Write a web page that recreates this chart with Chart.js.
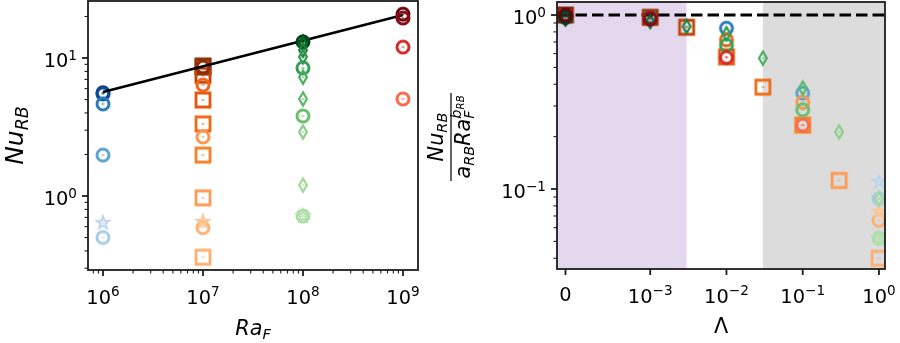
<!DOCTYPE html>
<html>
<head>
<meta charset="utf-8">
<script src="https://cdn.jsdelivr.net/npm/chart.js@4.4.1/dist/chart.umd.min.js"></script>
<style>
  html, body { margin: 0; padding: 0; background: #fff; }
  #wrap { position: relative; width: 900px; height: 343px; }
  #wrap canvas { position: absolute; left: 0; top: 0; width: 900px; height: 343px; }
</style>
</head>
<body>
<div id="wrap">
  <canvas id="left" width="900" height="343"></canvas>
  <canvas id="right" width="900" height="343"></canvas>
</div>
<script>
// ---- data ----------------------------------------------------------------
const raF = [1e6, 1e7, 1e8, 1e9];
const lambdaTicks = [0, 1e-3, 1e-2, 1e-1, 1];

// Ra_F = 1e6 (blues)
const bCircLam = [0, 1e-3, 1e-2, 1e-1, 1];
const bCircNu = [5.6, 5.5, 4.65, 1.98, 0.50];
const bCircNorm = [0.98, 0.97, 0.84, 0.356, 0.088];
const bStarLam = [1];
const bStarNu = [0.64];
const bStarNorm = [0.11];

// Ra_F = 1e7 (oranges)
const oSqLam = [0, 1e-3, 3e-3, 1e-2, 3e-2, 1e-1, 3e-1, 1];
const oSqNu = [8.75, 8.6, 7.5, 4.96, 3.33, 1.98, 0.97, 0.36];
const oSqNorm = [1.0, 0.97, 0.85, 0.575, 0.385, 0.233, 0.112, 0.040];
const oCircLam = [0, 1e-2, 1e-1, 1];
const oCircNu = [8.6, 6.37, 2.68, 0.59];
const oCircNorm = [0.99, 0.72, 0.315, 0.066];
const oStarLam = [1];
const oStarNu = [0.65];
const oStarNorm = [0.074];

// Ra_F = 1e8 (greens)
const gCircLam = [0, 1e-2, 1e-1, 1];
const gCircNu = [13.1, 8.47, 3.80, 0.716];
const gCircNorm = [0.97, 0.67, 0.285, 0.052];
const gDiaLam = [0, 1e-3, 3e-3, 1e-2, 3e-2, 1e-1, 3e-1, 1];
const gDiaNu = [13.0, 12.6, 11.4, 10.2, 7.27, 5.05, 2.91, 1.20];
const gDiaNorm = [0.95, 0.92, 0.86, 0.78, 0.565, 0.38, 0.213, 0.088];
const gStarLam = [1];
const gStarNu = [0.716];
const gStarNorm = [0.052];

// Ra_F = 1e9 (reds)
const rCircLam = [0, 1e-3, 1e-2, 1e-1];
const rCircNu = [20.8, 19.5, 12.0, 5.05];
const rCircNorm = [1.0, 0.95, 0.57, 0.233];

// fit  Nu = a Ra^b
const fitRa = [1e6, 1e9];
const fitNu = [5.68, 20.5];

// shaded Lambda bands
const bandLow = 3e-3;
const bandHigh = 3e-2;

// ---- styles ----------------------------------------------------------------
const bCircCol = ['#08306b', '#0b4d94', '#2b7bba', '#5ba3d0', '#a6cde5'];
const bStarCol = ['#bcd6ee'];
const oSqCol = ['#7f2704', '#9c3305', '#c44103', '#e5560e', '#f16a15', '#f7802c', '#fd9a55', '#fdb06f'];
const oCircCol = ['#8c2d04', '#ee661a', '#fa9552', '#fdb074'];
const oStarCol = ['#fdc592'];
const gCircCol = ['#00441b', '#37a055', '#6abf6e', '#acdca6'];
const gDiaCol = ['#00441b', '#006d2c', '#1d7f3c', '#2f984f', '#45ad5f', '#5bb86a', '#8ccf89', '#a1d99b'];
const gStarCol = ['#b2e0ab'];
const rCircCol = ['#67000d', '#8b0a14', '#d42a24', '#fb6a4a'];

const FONT = "'DejaVu Sans', 'Liberation Sans', sans-serif";
const AXC = '#1c1c1c';

// ---- markers (matplotlib-like, unfilled) ----------------------------------
const markerCache = {};
function marker(shape, color) {
  const key = shape + color;
  if (markerCache[key]) return markerCache[key];
  const S = 26, m = S / 2;
  const c = document.createElement('canvas');
  c.width = S; c.height = S;
  const g = c.getContext('2d');
  g.strokeStyle = color;
  g.fillStyle = color;
  g.lineJoin = 'miter';
  g.beginPath();
  if (shape === 'o') {
    g.lineWidth = 3;
    g.arc(m, m, 6, 0, Math.PI * 2);
  } else if (shape === 's') {
    g.lineWidth = 2.8;
    g.rect(m - 7, m - 7, 14, 14);
  } else if (shape === 'd') {
    g.lineWidth = 2.2;
    g.moveTo(m, m - 6.6); g.lineTo(m + 3.9, m); g.lineTo(m, m + 6.6); g.lineTo(m - 3.9, m);
    g.closePath();
  } else {
    g.lineWidth = 2;
    for (let i = 0; i < 10; i++) {
      const r = i % 2 ? 2.6 : 6.4;
      const a = -Math.PI / 2 + i * Math.PI / 5;
      const px = m + r * Math.cos(a), py = m + r * Math.sin(a);
      if (i) g.lineTo(px, py); else g.moveTo(px, py);
    }
    g.closePath();
  }
  g.stroke();
  // tiny error bar in the middle
  g.globalAlpha = 0.8;
  g.fillRect(m - 1.5, m - 0.6, 3, 1.2);
  markerCache[key] = c;
  return c;
}

// draw order: first = bottom
const series = [
  { shape: 'o', ra: 1e6, lam: bCircLam, nu: bCircNu, norm: bCircNorm, col: bCircCol },
  { shape: '*', ra: 1e6, lam: bStarLam, nu: bStarNu, norm: bStarNorm, col: bStarCol },
  { shape: 's', ra: 1e7, lam: oSqLam, nu: oSqNu, norm: oSqNorm, col: oSqCol },
  { shape: 'o', ra: 1e7, lam: oCircLam, nu: oCircNu, norm: oCircNorm, col: oCircCol },
  { shape: '*', ra: 1e7, lam: oStarLam, nu: oStarNu, norm: oStarNorm, col: oStarCol },
  { fit: true },
  { shape: 'o', ra: 1e8, lam: gCircLam, nu: gCircNu, norm: gCircNorm, col: gCircCol },
  { shape: 'd', ra: 1e8, lam: gDiaLam, nu: gDiaNu, norm: gDiaNorm, col: gDiaCol },
  { shape: '*', ra: 1e8, lam: gStarLam, nu: gStarNu, norm: gStarNorm, col: gStarCol },
  { shape: 'o', ra: 1e9, lam: rCircLam, nu: rCircNu, norm: rCircNorm, col: rCircCol },
];

function pointSet(s, xs, ys) {
  return {
    data: xs.map((x, i) => ({ x, y: ys[i] })),
    pointStyle: s.col.map(c => marker(s.shape, c)),
    pointRadius: 7,
    showLine: false,
    clip: 0,
  };
}

const leftSets = series.map((s, i) => {
  let d;
  if (s.fit) {
    d = {
      data: fitRa.map((x, k) => ({ x, y: fitNu[k] })),
      showLine: true, borderColor: '#000', borderWidth: 2.6, pointRadius: 0, clip: 0,
    };
  } else {
    d = pointSet(s, s.lam.map(() => s.ra), s.nu);
  }
  d.order = series.length - i;
  return d;
});
const rightSets = series.filter(s => !s.fit).map((s, i, arr) => {
  const d = pointSet(s, s.lam, s.norm);
  d.order = arr.length - i;
  return d;
});

// ---- symlog scale ----------------------------------------------------------
class SymLogScale extends Chart.Scale {
  static id = 'symlog';
  static defaults = { linthresh: 1e-3, linscale: 1 };
  determineDataLimits() {
    const { min, max } = this.getMinMax(true);
    this.min = Number.isFinite(this.options.min) ? this.options.min : min;
    this.max = Number.isFinite(this.options.max) ? this.options.max : max;
  }
  buildTicks() { return []; }
  fwd(v) {
    const c = this.options.linthresh, ls = this.options.linscale / (1 - 1 / 10);
    const a = Math.abs(v), s = Math.sign(v);
    return a <= c ? s * a / c * ls : s * (ls + Math.log10(a / c));
  }
  inv(t) {
    const c = this.options.linthresh, ls = this.options.linscale / (1 - 1 / 10);
    const a = Math.abs(t), s = Math.sign(t);
    return a <= ls ? s * a / ls * c : s * c * Math.pow(10, a - ls);
  }
  configure() {
    super.configure();
    this._t0 = this.fwd(this.min);
    this._t1 = this.fwd(this.max);
  }
  getPixelForValue(v) {
    return this.getPixelForDecimal((this.fwd(v) - this._t0) / (this._t1 - this._t0));
  }
  getValueForPixel(p) {
    return this.inv(this._t0 + this.getDecimalForPixel(p) * (this._t1 - this._t0));
  }
}
Chart.register(SymLogScale);

// ---- text helpers ----------------------------------------------------------
function font(size, italic) { return (italic ? 'italic ' : '') + size + 'px ' + FONT; }

function drawRich(ctx, parts, x, y, align, rot) {
  ctx.save();
  ctx.translate(x, y);
  if (rot) ctx.rotate(rot);
  let cx = 0, maxX = 0;
  const pos = parts.map(p => {
    ctx.font = p.f;
    const w = ctx.measureText(p.t).width;
    const start = cx;
    maxX = Math.max(maxX, start + w);
    if (p.adv !== false) cx = start + w;
    return start;
  });
  const off = align === 'center' ? -maxX / 2 : align === 'right' ? -maxX : 0;
  ctx.fillStyle = '#000';
  ctx.textAlign = 'left';
  ctx.textBaseline = 'alphabetic';
  parts.forEach((p, i) => { ctx.font = p.f; ctx.fillText(p.t, off + pos[i], p.dy || 0); });
  ctx.restore();
}

const TICK = 19.4, SUP = 13.6, LAB = 20.8, LSUB = 14.5;
function tickParts(v) {
  if (v === 0) return [{ t: '0', f: font(TICK) }];
  const e = Math.round(Math.log10(v));
  const es = (e < 0 ? '\u2212' : '') + Math.abs(e);
  return [{ t: '10', f: font(TICK) }, { t: es, f: font(SUP), dy: -7.5 }];
}

function logTicks(min, max) {
  const out = [];
  for (let n = Math.floor(Math.log10(min)); n <= Math.ceil(Math.log10(max)); n++) {
    for (let k = 1; k <= 9; k++) {
      const v = k * Math.pow(10, n);
      if (v >= min * 0.9999 && v <= max * 1.0001) out.push({ v, major: k === 1 });
    }
  }
  return out;
}

function line(ctx, x0, y0, x1, y1, w) {
  ctx.lineWidth = w;
  ctx.beginPath(); ctx.moveTo(x0, y0); ctx.lineTo(x1, y1); ctx.stroke();
}

function axesPlugin(spec) {
  return {
    id: 'axesDraw',
    beforeDatasetsDraw(chart) { if (spec.under) spec.under(chart); },
    afterDraw(chart) {
      const { ctx, chartArea: a } = chart;
      const x = chart.scales.x, y = chart.scales.y;
      ctx.save();
      ctx.strokeStyle = AXC;
      spec.xTicks.forEach(t => {
        const px = x.getPixelForValue(t.v);
        line(ctx, px, a.bottom, px, a.bottom + (t.major ? 6 : 3.5), t.major ? 1.8 : 1.1);
        if (t.major) {
          const parts = tickParts(t.v);
          drawRich(ctx, parts, px, a.bottom + (parts.length > 1 ? 33.5 : 31.5), 'center');
        }
      });
      spec.yTicks.forEach(t => {
        const py = y.getPixelForValue(t.v);
        line(ctx, a.left, py, a.left - (t.major ? 6 : 3.5), py, t.major ? 1.8 : 1.1);
        if (t.major) drawRich(ctx, tickParts(t.v), a.left - 11, py + 9, 'right');
      });
      ctx.lineWidth = 1.8;
      ctx.strokeRect(a.left, a.top, a.right - a.left, a.bottom - a.top);
      spec.titles(ctx, a);
      ctx.restore();
    },
  };
}

const baseOpts = {
  responsive: false,
  animation: false,
  devicePixelRatio: 1,
  events: [],
  plugins: { legend: { display: false }, tooltip: { enabled: false } },
};

// ---- left: Nu_RB vs Ra_F ----------------------------------------------------
const lxMin = Math.pow(10, 5.85), lxMax = Math.pow(10, 9.15);
const lyMin = 0.291, lyMax = 25.9;
new Chart(document.getElementById('left'), {
  type: 'scatter',
  data: { datasets: leftSets },
  options: Object.assign({}, baseOpts, {
    layout: { autoPadding: false, padding: { left: 88, top: 1, right: 900 - 418, bottom: 343 - 270 } },
    scales: {
      x: { type: 'logarithmic', min: lxMin, max: lxMax, display: false },
      y: { type: 'logarithmic', min: lyMin, max: lyMax, display: false },
    },
  }),
  plugins: [axesPlugin({
    xTicks: logTicks(lxMin, lxMax),
    yTicks: logTicks(lyMin, lyMax),
    titles(ctx, a) {
      drawRich(ctx, [{ t: 'Ra', f: font(LAB, true) }, { t: 'F', f: font(LSUB, true), dy: 4 }],
        (a.left + a.right) / 2, 335, 'center');
      drawRich(ctx, [{ t: 'Nu', f: font(25, true) }, { t: 'RB', f: font(17.5, true), dy: 5 }],
        23, (a.top + a.bottom) / 2, 'center', -Math.PI / 2);
    },
  })],
});

// ---- right: normalised Nu vs Lambda ------------------------------------------
const rxMin = -1e-4, rxMax = 1.2;
const ryMin = 0.0347, ryMax = 1.188;
new Chart(document.getElementById('right'), {
  type: 'scatter',
  data: { datasets: rightSets },
  options: Object.assign({}, baseOpts, {
    layout: { autoPadding: false, padding: { left: 557, top: 2, right: 900 - 885, bottom: 343 - 269 } },
    scales: {
      x: { type: 'symlog', min: rxMin, max: rxMax, linthresh: 1e-3, linscale: 1, display: false },
      y: { type: 'logarithmic', min: ryMin, max: ryMax, display: false },
    },
  }),
  plugins: [axesPlugin({
    xTicks: lambdaTicks.map(v => ({ v, major: true })),
    yTicks: logTicks(ryMin, ryMax),
    under(chart) {
      const { ctx, chartArea: a } = chart;
      const x = chart.scales.x, y = chart.scales.y;
      ctx.save();
      ctx.fillStyle = '#e4d8ee';
      ctx.fillRect(a.left, a.top, x.getPixelForValue(bandLow) - a.left, a.bottom - a.top);
      ctx.fillStyle = '#dcdcdc';
      const hx = x.getPixelForValue(bandHigh);
      ctx.fillRect(hx, a.top, a.right - hx, a.bottom - a.top);
      ctx.strokeStyle = '#000';
      ctx.setLineDash([11.5, 5]);
      ctx.lineDashOffset = -2;
      const py = y.getPixelForValue(1);
      line(ctx, a.left, py, a.right, py, 3);
      ctx.restore();
    },
    titles(ctx, a) {
      drawRich(ctx, [{ t: '\u039B', f: font(LAB) }], (a.left + a.right) / 2, 333, 'center');
      const cy = 137;
      drawRich(ctx, [{ t: 'Nu', f: font(LAB, true) }, { t: 'RB', f: font(LSUB, true), dy: 4 }],
        442.5, cy, 'center', -Math.PI / 2);
      ctx.strokeStyle = '#000';
      line(ctx, 451, cy - 44, 451, cy + 44, 1.2);
      drawRich(ctx, [
        { t: 'a', f: font(LAB, true) },
        { t: 'RB', f: font(LSUB, true), dy: 4 },
        { t: 'Ra', f: font(LAB, true) },
        { t: 'F', f: font(LSUB, true), dy: 4, adv: false },
        { t: 'b', f: font(LSUB, true), dy: -9 },
        { t: 'RB', f: font(10.2, true), dy: -6 },
      ], 470, cy, 'center', -Math.PI / 2);
    },
  })],
});
</script>
</body>
</html>
